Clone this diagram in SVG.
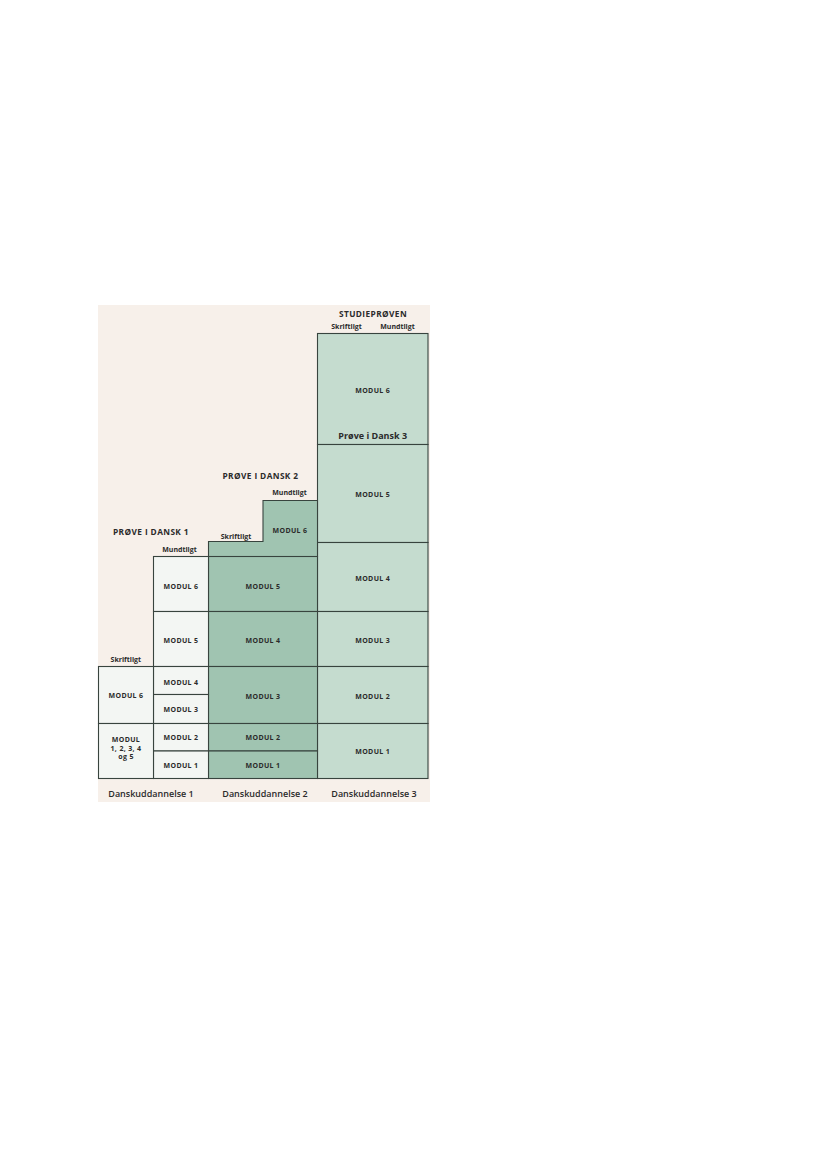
<svg xmlns="http://www.w3.org/2000/svg" width="827" height="1169" viewBox="0 0 827 1169">
<style>
.c1{fill:#f3f6f3;stroke:#38443e;stroke-width:1.1}
.c2{fill:#a0c4b1;stroke:#38443e;stroke-width:1.1}
.c3{fill:#c5dccf;stroke:#38443e;stroke-width:1.1}
text{font-family:"Open Sans","Liberation Sans",sans-serif;fill:#2b2b2b;text-anchor:middle}
.m{font-size:7px;font-weight:700;letter-spacing:0.35px}
.s{font-size:7px;font-weight:700}
.h{font-size:8.3px;font-weight:700;letter-spacing:0.4px}
.p{font-size:9px;font-weight:700}
.d{font-size:9px;font-weight:600}
</style>
<rect x="0" y="0" width="827" height="1169" fill="#ffffff"/>
<rect x="98" y="305" width="332" height="497" fill="#f7f0ea"/>
<g id="col3">
<g id="c3m6"><rect class="c3" x="317.5" y="333.5" width="110.5" height="111"/><text class="m" x="372.7" y="392.5">MODUL 6</text><text class="p" x="372.7" y="438.5">Prøve i Dansk 3</text></g>
<g id="c3m5"><rect class="c3" x="317.5" y="444.5" width="110.5" height="98"/><text class="m" x="372.7" y="496.5">MODUL 5</text></g>
<g id="c3m4"><rect class="c3" x="317.5" y="542.5" width="110.5" height="69"/><text class="m" x="372.7" y="580.5">MODUL 4</text></g>
<g id="c3m3"><rect class="c3" x="317.5" y="611.5" width="110.5" height="55"/><text class="m" x="372.7" y="642.5">MODUL 3</text></g>
<g id="c3m2"><rect class="c3" x="317.5" y="666.5" width="110.5" height="57"/><text class="m" x="372.7" y="698.5">MODUL 2</text></g>
<g id="c3m1"><rect class="c3" x="317.5" y="723.5" width="110.5" height="55"/><text class="m" x="372.7" y="754">MODUL 1</text></g>
</g>
<g id="col2">
<g id="c2top"><path class="c2" d="M208.5,556.5 V541.5 H263 V500.5 H317.5 V556.5 Z"/><text class="m" x="290" y="533">MODUL 6</text></g>
<g id="c2m5"><rect class="c2" x="208.5" y="556.5" width="109" height="55"/><text class="m" x="263" y="588.5">MODUL 5</text></g>
<g id="c2m4"><rect class="c2" x="208.5" y="611.5" width="109" height="55"/><text class="m" x="263" y="642.5">MODUL 4</text></g>
<g id="c2m3"><rect class="c2" x="208.5" y="666.5" width="109" height="57"/><text class="m" x="263" y="698.5">MODUL 3</text></g>
<g id="c2m2"><rect class="c2" x="208.5" y="723.5" width="109" height="27.5"/><text class="m" x="263" y="740">MODUL 2</text></g>
<g id="c2m1"><rect class="c2" x="208.5" y="751" width="109" height="27.5"/><text class="m" x="263" y="768">MODUL 1</text></g>
</g>
<g id="col1b">
<g id="c1bm6"><rect class="c1" x="153.5" y="556.5" width="55" height="55"/><text class="m" x="181" y="588.5">MODUL 6</text></g>
<g id="c1bm5"><rect class="c1" x="153.5" y="611.5" width="55" height="55"/><text class="m" x="181" y="642.5">MODUL 5</text></g>
<g id="c1bm4"><rect class="c1" x="153.5" y="666.5" width="55" height="28"/><text class="m" x="181" y="684.5">MODUL 4</text></g>
<g id="c1bm3"><rect class="c1" x="153.5" y="694.5" width="55" height="29"/><text class="m" x="181" y="711.5">MODUL 3</text></g>
<g id="c1bm2"><rect class="c1" x="153.5" y="723.5" width="55" height="27.5"/><text class="m" x="181" y="740">MODUL 2</text></g>
<g id="c1bm1"><rect class="c1" x="153.5" y="751" width="55" height="27.5"/><text class="m" x="181" y="768">MODUL 1</text></g>
</g>
<g id="col1a">
<g id="c1am6"><rect class="c1" x="98.5" y="666.5" width="55" height="57"/><text class="m" x="126" y="698">MODUL 6</text></g>
<g id="c1am15"><rect class="c1" x="98.5" y="723.5" width="55" height="55"/><text class="m" x="126" y="741.5">MODUL</text><text class="m" x="126" y="750.5">1, 2, 3, 4</text><text class="m" x="126" y="759">og 5</text></g>
</g>
<g id="labels">
<text class="h" x="373" y="317">STUDIEPRØVEN</text>
<text class="s" x="346.5" y="329">Skriftligt</text>
<text class="s" x="397.5" y="329">Mundtligt</text>
<text class="h" x="260.5" y="478.5">PRØVE I DANSK 2</text>
<text class="s" x="289.5" y="494.5">Mundtligt</text>
<text class="s" x="236" y="538.5">Skriftligt</text>
<text class="h" x="151" y="535">PRØVE I DANSK 1</text>
<text class="s" x="179.5" y="551.5">Mundtligt</text>
<text class="s" x="125.8" y="661.5">Skriftligt</text>
<text class="d" x="151" y="797">Danskuddannelse 1</text>
<text class="d" x="265" y="797">Danskuddannelse 2</text>
<text class="d" x="374" y="797">Danskuddannelse 3</text>
</g>
</svg>
